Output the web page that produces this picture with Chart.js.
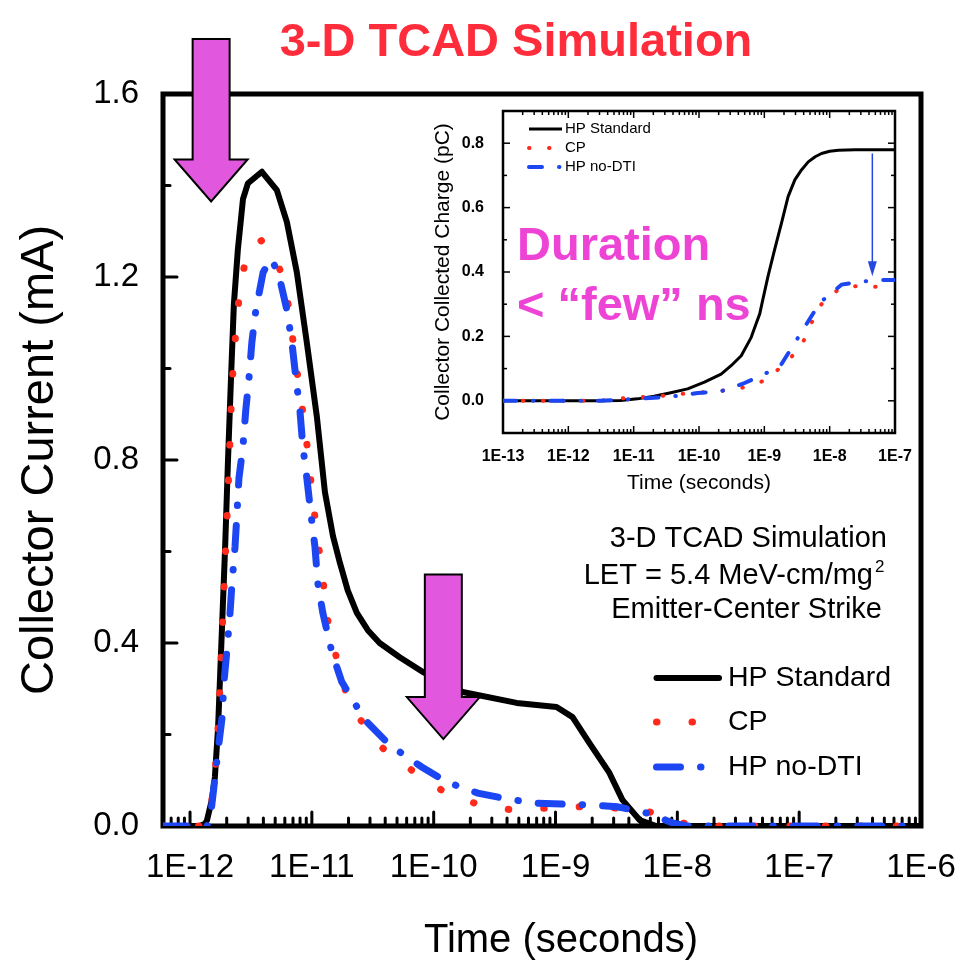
<!DOCTYPE html>
<html>
<head>
<meta charset="utf-8">
<title>Collector current transients - 3-D TCAD</title>
<script src="https://cdn.jsdelivr.net/npm/chart.js@4.4.1/dist/chart.umd.min.js"></script>
<style>
  html, body { margin: 0; padding: 0; background: #fff; }
  #wrap { position: relative; width: 973px; height: 964px; }
  #main { position: absolute; left: 0; top: 0; }
  #inset { position: absolute; left: 420px; top: 97px; background: #fff; }
</style>
</head>
<body>
<div id="wrap">
  <canvas id="main" width="973" height="964"></canvas>
  <canvas id="inset" width="498" height="404"></canvas>
</div>
<script>
const FONT = "'Liberation Sans', Arial, Helvetica, sans-serif";

// collector current transients: time (s) / current (mA)
const hpStdTime = [6e-13, 1.2e-12, 1.33e-12, 1.38e-12, 1.51e-12, 1.6e-12, 1.7e-12, 1.83e-12, 1.94e-12, 2.05e-12,
  2.17e-12, 2.29e-12, 2.47e-12, 2.72e-12, 2.99e-12, 3.89e-12, 5.16e-12, 6.24e-12, 7.53e-12, 9.1e-12,
  1.1e-11, 1.28e-11, 1.49e-11, 1.7e-11, 1.97e-11, 2.34e-11, 2.88e-11, 3.6e-11, 5.26e-11, 8.1e-11,
  1.73e-10, 4.8e-10, 1.02e-9, 1.38e-9, 1.9e-9, 2.77e-9, 3.54e-9, 4.9e-9, 6.7e-9, 1e-6];
const hpStdCurrent = [0, 0, 0.005, 0.013, 0.057, 0.107, 0.216, 0.434, 0.607, 0.80,
  0.98, 1.14, 1.26, 1.37, 1.405, 1.43, 1.39, 1.32, 1.21, 1.056,
  0.894, 0.73, 0.634, 0.575, 0.515, 0.466, 0.428, 0.40, 0.369, 0.337,
  0.293, 0.269, 0.26, 0.238, 0.181, 0.116, 0.057, 0.013, 0, 0];

const cpTime = [6e-13, 1.38e-12, 1.41e-12, 1.51e-12, 1.6e-12, 1.7e-12, 1.83e-12, 1.94e-12, 1.99e-12, 2.05e-12,
  2.11e-12, 2.17e-12, 2.25e-12, 2.38e-12, 2.57e-12, 2.99e-12, 3.89e-12, 5.16e-12, 6.24e-12, 7.68e-12,
  8.59e-12, 9.44e-12, 1.02e-11, 1.12e-11, 1.23e-11, 1.35e-11, 1.63e-11, 2.01e-11, 3.41e-11, 6.6e-11,
  1.23e-10, 2.38e-10, 4.45e-10, 8.4e-10, 1.63e-9, 3.16e-9, 5.89e-9, 1.08e-8, 1.51e-8, 1e-6];
const cpCurrent = [0, 0, 0.01, 0.057, 0.11, 0.216, 0.41, 0.58, 0.643, 0.73,
  0.817, 0.909, 0.997, 1.084, 1.176, 1.263, 1.28, 1.24, 1.16, 0.98,
  0.89, 0.80, 0.71, 0.625, 0.54, 0.45, 0.356, 0.27, 0.18, 0.122,
  0.074, 0.046, 0.035, 0.039, 0.042, 0.039, 0.031, 0.007, 0, 0];

const noDtiTime = [6e-13, 1.38e-12, 1.46e-12, 1.57e-12, 1.7e-12, 1.83e-12, 1.9e-12, 2.01e-12, 2.13e-12, 2.21e-12,
  2.34e-12, 2.43e-12, 2.52e-12, 2.72e-12, 2.87e-12, 3.05e-12, 3.22e-12, 3.47e-12, 3.98e-12, 4.61e-12,
  5.3e-12, 6.24e-12, 6.85e-12, 7.39e-12, 7.97e-12, 8.43e-12, 9.1e-12, 9.8e-12, 1.06e-11, 1.12e-11,
  1.23e-11, 1.46e-11, 1.76e-11, 2.72e-11, 4.35e-11, 7.98e-11, 1.28e-10, 2.3e-10, 3.68e-10, 6.7e-10,
  1.12e-9, 2.01e-9, 3.22e-9, 5.68e-9, 9.1e-9, 1.19e-8, 1e-6];
const noDtiCurrent = [0, 0, 0.013, 0.085, 0.166, 0.236, 0.315, 0.385, 0.466, 0.53,
  0.61, 0.684, 0.76, 0.83, 0.91, 0.98, 1.058, 1.128, 1.21, 1.24,
  1.21, 1.128, 1.058, 0.98, 0.91, 0.83, 0.76, 0.684, 0.61, 0.53,
  0.466, 0.38, 0.315, 0.232, 0.177, 0.129, 0.096, 0.072, 0.061, 0.05,
  0.048, 0.046, 0.042, 0.028, 0.007, 0, 0];

// collected charge: time (s) / charge (pC)
const hpStdChargeTime = [1e-13, 3e-12, 6.3e-12, 1.14e-11, 2.06e-11, 3.7e-11, 6.7e-11, 1.21e-10, 2.18e-10, 3.1e-10,
  4.43e-10, 6.3e-10, 7.5e-10, 8.5e-10, 9.5e-10, 1.14e-9, 1.44e-9, 1.83e-9, 2.31e-9, 2.93e-9,
  3.7e-9, 4.7e-9, 6e-9, 7.5e-9, 1.0e-8, 1.36e-8, 2.45e-8, 1e-7];
const hpStdCharge = [0, 0, 0.001, 0.006, 0.014, 0.025, 0.037, 0.058, 0.083, 0.109,
  0.14, 0.197, 0.24, 0.27, 0.315, 0.387, 0.47, 0.552, 0.634, 0.686,
  0.717, 0.742, 0.758, 0.768, 0.775, 0.778, 0.78, 0.78];

const cpChargeTime = [1e-13, 3e-12, 7.1e-12, 2.9e-11, 5.9e-11, 2.45e-10, 4.98e-10, 1.01e-9, 2.06e-9, 3.7e-9,
  5.3e-9, 7.5e-9, 1.36e-8, 2.18e-8, 5.9e-8, 1e-7];
const cpCharge = [0, 0, 0.008, 0.016, 0.022, 0.032, 0.042, 0.063, 0.114, 0.171,
  0.243, 0.30, 0.346, 0.356, 0.354, 0.355];

const noDtiChargeTime = [1e-13, 3e-12, 1.1e-11, 3.5e-11, 9.5e-11, 2.2e-10, 4.7e-10, 1.01e-9, 1.83e-9, 3.3e-9,
  7.1e-9, 1.53e-8, 2.9e-8, 6e-8, 1e-7];
const noDtiCharge = [0, 0, 0.006, 0.012, 0.024, 0.03, 0.053, 0.083, 0.114, 0.197,
  0.305, 0.361, 0.37, 0.375, 0.375];

const seriesNames = ['HP Standard', 'CP', 'HP no-DTI'];
const timeDecades = [1e-12, 1e-11, 1e-10, 1e-9, 1e-8, 1e-7, 1e-6];
const chargeDecades = [1e-13, 1e-12, 1e-11, 1e-10, 1e-9, 1e-8, 1e-7];
const currentTicks = [0, 0.4, 0.8, 1.2, 1.6];
const chargeTicks = [0, 0.2, 0.4, 0.6, 0.8];

// block arrows: time (s), top and tip (mA)
const arrowTime = [1.49e-12, 1.2e-10];
const arrowTop = [1.72, 0.55];
const arrowTip = [1.365, 0.19];

// drop marker on the charge plot: time (s), from / to (pC)
const dropTime = 4.5e-8;
const dropFrom = 0.768;
const dropTo = 0.387;

const BLACK = '#000000';
const RED = '#FF2A1A';
const BLUE = '#1C46F2';
const PINK = '#E158DE';

const pts = (xs, ys) => xs.map((x, i) => ({ x: x, y: ys[i] }));
const expLabel = v => '1E' + Math.round(Math.log10(v));

function seg(ctx, x1, y1, x2, y2) {
  ctx.beginPath();
  ctx.moveTo(x1, y1);
  ctx.lineTo(x2, y2);
  ctx.stroke();
}

function blockArrow(ctx, cx, yTop, yTip, shaftW, headW, headL) {
  ctx.beginPath();
  ctx.moveTo(cx - shaftW / 2, yTop);
  ctx.lineTo(cx + shaftW / 2, yTop);
  ctx.lineTo(cx + shaftW / 2, yTip - headL);
  ctx.lineTo(cx + headW / 2, yTip - headL);
  ctx.lineTo(cx, yTip);
  ctx.lineTo(cx - headW / 2, yTip - headL);
  ctx.lineTo(cx - shaftW / 2, yTip - headL);
  ctx.closePath();
  ctx.fill();
  ctx.stroke();
}

function drawLegend(ctx, datasets, x0, x1, rows, textX, font) {
  datasets.forEach((ds, i) => {
    const yy = rows[i];
    ctx.strokeStyle = ds.borderColor;
    ctx.lineWidth = ds.borderWidth;
    ctx.lineCap = ds.borderCapStyle || 'butt';
    ctx.setLineDash(ds.borderDash || []);
    seg(ctx, x0, yy, x1, yy);
    ctx.setLineDash([]);
    ctx.fillStyle = '#000';
    ctx.font = font;
    ctx.textAlign = 'left';
    ctx.textBaseline = 'middle';
    ctx.fillText(ds.label, textX, yy);
  });
}

// frame with inward ticks for the current plot
const mainFrame = {
  id: 'mainFrame',
  beforeDatasetsDraw(chart) {
    const { ctx, chartArea: a, scales: { x, y } } = chart;
    ctx.save();
    ctx.strokeStyle = '#000';
    ctx.lineCap = 'round';
    ctx.lineWidth = 3;
    for (let e = -13; e <= -6; e++) {
      for (let m = 1; m <= 9; m++) {
        const v = m * 10 ** e;
        if (v <= x.min || v > x.max * 1.0001) continue;
        const px = x.getPixelForValue(v);
        seg(ctx, px, a.bottom, px, a.bottom - (m === 1 ? 14 : 8));
      }
    }
    for (let i = 1; i < 8; i++) {
      const py = y.getPixelForValue(i * 0.2);
      seg(ctx, a.left, py, a.left + (i % 2 === 0 ? 14 : 7), py);
    }
    ctx.lineCap = 'butt';
    ctx.lineWidth = 5;
    ctx.strokeRect(a.left, a.top, a.right - a.left, a.bottom - a.top);
    ctx.restore();
  }
};

const mainDecor = {
  id: 'mainDecor',
  afterDraw(chart) {
    const { ctx, chartArea: a, scales: { x, y } } = chart;
    ctx.save();

    // axis titles
    ctx.fillStyle = '#000';
    ctx.font = '40px ' + FONT;
    ctx.textAlign = 'center';
    ctx.textBaseline = 'middle';
    ctx.fillText('Time (seconds)', 561, 941);
    ctx.save();
    ctx.translate(40, (a.top + a.bottom) / 2);
    ctx.rotate(-Math.PI / 2);
    ctx.font = '47px ' + FONT;
    ctx.fillText('Collector Current (mA)', 0, 0);
    ctx.restore();

    // heading
    ctx.fillStyle = '#FF2D3C';
    ctx.font = 'bold 47px ' + FONT;
    ctx.textBaseline = 'alphabetic';
    ctx.fillText('3-D TCAD Simulation', 516, 56);

    // simulation notes
    ctx.fillStyle = '#000';
    ctx.font = '29px ' + FONT;
    ctx.textAlign = 'right';
    ctx.fillText('3-D TCAD Simulation', a.right - 34, 547);
    ctx.fillText('LET = 5.4 MeV-cm/mg', a.right - 48, 584);
    ctx.fillText('Emitter-Center Strike', a.right - 39, 618);
    ctx.textAlign = 'left';
    ctx.font = '17px ' + FONT;
    ctx.fillText('2', a.right - 46, 572);

    // legend
    const legendRows = [a.bottom - 148, a.bottom - 104, a.bottom - 59];
    drawLegend(ctx, chart.data.datasets, 656.5, 719, legendRows, 728, '28.5px ' + FONT);

    // arrows
    ctx.fillStyle = PINK;
    ctx.strokeStyle = '#000';
    ctx.lineWidth = 2;
    ctx.lineJoin = 'miter';
    ctx.setLineDash([]);
    arrowTime.forEach((t, i) => {
      blockArrow(ctx, x.getPixelForValue(t), y.getPixelForValue(arrowTop[i]),
        y.getPixelForValue(arrowTip[i]), 37, 73, 42);
    });
    ctx.restore();
  }
};

new Chart(document.getElementById('main'), {
  type: 'line',
  data: {
    datasets: [
      { label: seriesNames[0], data: pts(hpStdTime, hpStdCurrent), borderColor: BLACK,
        borderWidth: 6, borderCapStyle: 'round', borderJoinStyle: 'round', order: 3 },
      { label: seriesNames[1], data: pts(cpTime, cpCurrent), borderColor: RED,
        borderWidth: 7, borderDash: [0.5, 35], borderCapStyle: 'round', order: 2 },
      { label: seriesNames[2], data: pts(noDtiTime, noDtiCurrent), borderColor: BLUE,
        borderWidth: 7, borderDash: [24, 20, 0.5, 20], borderCapStyle: 'round', order: 1 }
    ]
  },
  options: {
    responsive: false,
    animation: false,
    layout: { padding: { left: 0, top: 94, right: 52, bottom: 0 } },
    elements: { point: { radius: 0 }, line: { tension: 0, fill: false } },
    plugins: { legend: { display: false }, tooltip: { enabled: false } },
    scales: {
      x: {
        type: 'logarithmic', min: 6e-13, max: 1e-6,
        grid: { display: false }, border: { display: false },
        afterBuildTicks: s => { s.ticks = timeDecades.map(v => ({ value: v })); },
        afterFit: s => { s.height = 138; s.paddingLeft = 0; s.paddingRight = 0; },
        ticks: { callback: v => expLabel(v), color: '#000', autoSkip: false, maxRotation: 0,
          padding: 14, font: { family: FONT, size: 33 } }
      },
      y: {
        min: 0, max: 1.6,
        grid: { display: false }, border: { display: false },
        afterBuildTicks: s => { s.ticks = currentTicks.map(v => ({ value: v })); },
        afterFit: s => { s.width = 163; s.paddingTop = 0; s.paddingBottom = 0; },
        ticks: { callback: v => v.toFixed(1), color: '#000', padding: 16,
          font: { family: FONT, size: 33 } }
      }
    }
  },
  plugins: [mainFrame, mainDecor]
});

// charge plot frame, ticks on all four sides
const insetFrame = {
  id: 'insetFrame',
  beforeDatasetsDraw(chart) {
    const { ctx, chartArea: a, scales: { x, y } } = chart;
    ctx.save();
    ctx.strokeStyle = '#000';
    ctx.lineWidth = 1.5;
    for (let e = -13; e <= -7; e++) {
      for (let m = 1; m <= 9; m++) {
        const v = m * 10 ** e;
        if (v > x.max * 1.0001) continue;
        const px = x.getPixelForValue(v);
        const len = m === 1 ? 7 : 4;
        seg(ctx, px, a.bottom, px, a.bottom - len);
        seg(ctx, px, a.top, px, a.top + len);
      }
    }
    for (let i = 0; i <= 8; i++) {
      const py = y.getPixelForValue(i / 10);
      const len = i % 2 === 0 ? 7 : 4;
      seg(ctx, a.left, py, a.left + len, py);
      seg(ctx, a.right, py, a.right - len, py);
    }
    ctx.lineWidth = 2.5;
    ctx.strokeRect(a.left, a.top, a.right - a.left, a.bottom - a.top);
    ctx.restore();
  }
};

const insetDecor = {
  id: 'insetDecor',
  afterDraw(chart) {
    const { ctx, chartArea: a, scales: { x, y } } = chart;
    ctx.save();
    ctx.fillStyle = '#000';
    ctx.font = '21px ' + FONT;
    ctx.textAlign = 'center';
    ctx.textBaseline = 'middle';
    ctx.fillText('Time (seconds)', (a.left + a.right) / 2, 386);
    ctx.save();
    ctx.translate(23, (a.top + a.bottom) / 2);
    ctx.rotate(-Math.PI / 2);
    ctx.fillText('Collector Collected Charge (pC)', 0, 0);
    ctx.restore();

    drawLegend(ctx, chart.data.datasets, 109, 142, [32, 51, 70], 145, '15px ' + FONT);

    // drop marker
    const dx = x.getPixelForValue(dropTime);
    const y0 = y.getPixelForValue(dropFrom);
    const y1 = y.getPixelForValue(dropTo);
    ctx.strokeStyle = '#2448E0';
    ctx.fillStyle = '#2448E0';
    ctx.lineWidth = 1.5;
    ctx.lineCap = 'butt';
    seg(ctx, dx, y0, dx, y1 - 10);
    ctx.beginPath();
    ctx.moveTo(dx - 4.5, y1 - 15);
    ctx.lineTo(dx + 4.5, y1 - 15);
    ctx.lineTo(dx, y1);
    ctx.closePath();
    ctx.fill();

    // duration note
    ctx.fillStyle = '#EE44D6';
    ctx.font = 'bold 47px ' + FONT;
    ctx.textAlign = 'left';
    ctx.textBaseline = 'alphabetic';
    ctx.fillText('Duration', 97, 163);
    ctx.fillText('< \u201Cfew\u201D ns', 97, 223);
    ctx.restore();
  }
};

new Chart(document.getElementById('inset'), {
  type: 'line',
  data: {
    datasets: [
      { label: seriesNames[0], data: pts(hpStdChargeTime, hpStdCharge), borderColor: BLACK,
        borderWidth: 3, borderJoinStyle: 'round', order: 3 },
      { label: seriesNames[1], data: pts(cpChargeTime, cpCharge), borderColor: RED,
        borderWidth: 4, borderDash: [0.5, 19.5], borderCapStyle: 'round', order: 2 },
      { label: seriesNames[2], data: pts(noDtiChargeTime, noDtiCharge), borderColor: BLUE,
        borderWidth: 4, borderDash: [13, 17, 0.5, 17], borderCapStyle: 'round', order: 1 }
    ]
  },
  options: {
    responsive: false,
    animation: false,
    layout: { padding: { left: 0, top: 14, right: 23, bottom: 0 } },
    elements: { point: { radius: 0 }, line: { tension: 0, fill: false } },
    plugins: { legend: { display: false }, tooltip: { enabled: false } },
    scales: {
      x: {
        type: 'logarithmic', min: 1e-13, max: 1e-7,
        grid: { display: false }, border: { display: false },
        afterBuildTicks: s => { s.ticks = chargeDecades.map(v => ({ value: v })); },
        afterFit: s => { s.height = 68; s.paddingLeft = 0; s.paddingRight = 0; },
        ticks: { callback: v => expLabel(v), color: '#000', autoSkip: false, maxRotation: 0,
          padding: 6, font: { family: FONT, size: 16, weight: 'bold' } }
      },
      y: {
        min: -0.1, max: 0.9,
        grid: { display: false }, border: { display: false },
        afterBuildTicks: s => { s.ticks = chargeTicks.map(v => ({ value: v })); },
        afterFit: s => { s.width = 83; s.paddingTop = 0; s.paddingBottom = 0; },
        ticks: { callback: v => v.toFixed(1), color: '#000', padding: 11,
          font: { family: FONT, size: 16, weight: 'bold' } }
      }
    }
  },
  plugins: [insetFrame, insetDecor]
});
</script>
</body>
</html>
